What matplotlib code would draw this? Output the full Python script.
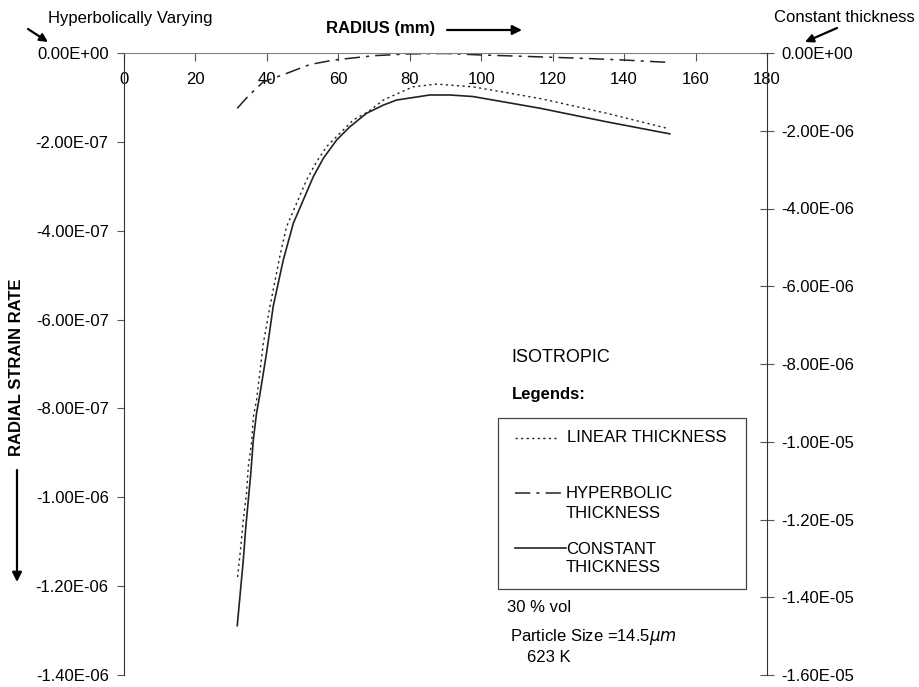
import matplotlib
matplotlib.use("Agg")
import matplotlib.pyplot as plt
from matplotlib.ticker import FuncFormatter
from matplotlib.lines import Line2D
from matplotlib.patches import Rectangle, FancyArrowPatch

plt.rcParams['font.family'] = ['Liberation Sans', 'DejaVu Sans']

# ---- data ----
# Hyperbolic thickness (left axis, strain rate)
r_hyp = [31.7, 35, 39, 45.5, 52, 58.6, 70, 80, 90, 100, 110, 120, 130, 140, 152]
v_hyp = [-1.245e-7, -0.95e-7, -0.65e-7, -0.46e-7, -0.26e-7, -0.16e-7, -0.06e-7,
         -0.02e-7, -0.01e-7, -0.045e-7, -0.07e-7, -0.097e-7, -0.125e-7, -0.158e-7, -0.21e-7]

# Linear thickness (right axis)
r_lin = [31.8, 32.7, 33.4, 34.3, 34.8, 35.7, 36.2, 37.1, 39.0, 40.9, 43.6, 45.5, 48.3,
         51.1, 53.9, 56.7, 60.4, 64.2, 68.4, 72.6, 76.7, 80.9, 87.5,
         97.7, 116.4, 135.1, 152.2]
v_lin = [-13.48e-6, -12.70e-6, -12.01e-6, -11.32e-6, -10.64e-6, -10.03e-6, -9.36e-6,
         -8.93e-6, -7.47e-6, -6.5e-6, -5.24e-6, -4.47e-6, -3.87e-6, -3.27e-6, -2.80e-6,
         -2.41e-6, -2.07e-6, -1.72e-6, -1.51e-6, -1.21e-6, -1.04e-6, -0.87e-6, -0.80e-6,
         -0.87e-6, -1.17e-6, -1.55e-6, -1.94e-6]

# Constant thickness (right axis)
r_con = [31.7, 33.4, 34.1, 34.8, 35.5, 36.2, 37.1, 38.1, 39.9, 41.8, 44.6, 47.4, 50.2,
         53.0, 55.8, 59.5, 63.2, 67.9, 72.6, 76.3, 85.6, 91.2,
         97.7, 116.4, 135.1, 152.8]
v_con = [-14.73e-6, -13.04e-6, -12.19e-6, -11.50e-6, -10.81e-6, -9.95e-6, -9.27e-6,
         -8.75e-6, -7.72e-6, -6.5e-6, -5.32e-6, -4.38e-6, -3.78e-6, -3.18e-6, -2.71e-6,
         -2.24e-6, -1.90e-6, -1.55e-6, -1.34e-6, -1.21e-6, -1.08e-6, -1.08e-6,
         -1.12e-6, -1.42e-6, -1.77e-6, -2.08e-6]

x_ticks = [0, 20, 40, 60, 80, 100, 120, 140, 160, 180]
left_ticks = [0, -2e-7, -4e-7, -6e-7, -8e-7, -1e-6, -1.2e-6, -1.4e-6]
right_ticks = [0, -2e-6, -4e-6, -6e-6, -8e-6, -1e-5, -1.2e-5, -1.4e-5, -1.6e-5]

W, H = 919, 687
fig = plt.figure(figsize=(W / 100, H / 100), dpi=100)
FS = 12


def px(x, y):
    return (x / W, 1 - y / H)


L, R, T, B = 124, 767, 53, 675
ax = fig.add_axes([L / W, 1 - B / H, (R - L) / W, (B - T) / H])
ax2 = ax.twinx()

LC = '#222222'
fmt = FuncFormatter(lambda v, p: f"{v:.2E}")

ax.set_xlim(0, 180)
ax.set_ylim(-1.4e-6, 0)
ax2.set_ylim(-1.6e-5, 0)

ax.set_xticks(x_ticks)
ax.set_yticks(left_ticks)
ax2.set_yticks(right_ticks)
ax.yaxis.set_major_formatter(fmt)
ax2.yaxis.set_major_formatter(fmt)

for s in ['top', 'right']:
    ax.spines[s].set_visible(False)
for s in ['top', 'left', 'bottom']:
    ax2.spines[s].set_visible(False)
ax.spines['bottom'].set_position(('data', 0))
ax.spines['bottom'].set_color('#808080')
ax.spines['left'].set_color('#333333')
ax2.spines['right'].set_color('#333333')

ax.tick_params(axis='x', direction='out', length=6, width=0.8, color='#555555',
               labelsize=FS, pad=8)
ax.tick_params(axis='y', direction='out', length=5, width=0.8, color='#555555',
               labelsize=FS, pad=6)
ax2.tick_params(axis='y', direction='inout', length=10, width=0.8, color='#555555',
                labelsize=FS, pad=5)

ax.plot(r_hyp, v_hyp, color=LC, lw=1.1, dashes=(10, 4, 2, 4))
ax2.plot(r_lin, v_lin, color=LC, lw=1.0, dashes=(1.6, 2.4))
ax2.plot(r_con, v_con, color=LC, lw=1.2, ls='-')


def arrow(p0, p1, ms=14):
    fig.add_artist(FancyArrowPatch(px(*p0), px(*p1), transform=fig.transFigure,
                                   arrowstyle='-|>', mutation_scale=ms, color='black', lw=1.6,
                                   shrinkA=0, shrinkB=0))


# ---- annotations ----
fig.text(*px(130, 18), "Hyperbolically Varying", fontsize=FS, ha='center', va='center')
arrow((28, 29), (48, 42), 12)
fig.text(*px(381, 29), "RADIUS (mm)", fontsize=FS, fontweight='bold', ha='center', va='center')
arrow((447, 30), (522, 30), 14)
fig.text(*px(844, 18), "Constant thickness", fontsize=FS, ha='center', va='center')
arrow((837, 28), (805, 42), 12)

fig.text(*px(17, 367), "RADIAL STRAIN RATE", fontsize=FS, fontweight='bold', rotation=90,
         ha='center', va='center')
arrow((17, 470), (17, 582), 14)

fig.text(*px(511, 358), "ISOTROPIC", fontsize=13, ha='left', va='center')
fig.text(*px(512, 395), "Legends:", fontsize=FS, fontweight='bold', ha='left', va='center')

fig.add_artist(Rectangle(px(498, 589), (746 - 498) / W, (589 - 418) / H, transform=fig.transFigure,
                         fill=False, ec='#444444', lw=0.9))

fig.add_artist(Line2D([515 / W, 558 / W], [1 - 438 / H] * 2, transform=fig.transFigure,
                      color=LC, lw=1.0, dashes=(1.6, 2.4)))
fig.text(*px(567, 438), "LINEAR THICKNESS", fontsize=FS, ha='left', va='center')
fig.add_artist(Line2D([515 / W, 565 / W], [1 - 493 / H] * 2, transform=fig.transFigure,
                      color=LC, lw=1.1, dashes=(10, 4, 2, 4)))
fig.text(*px(566, 493), "HYPERBOLIC", fontsize=FS, ha='left', va='center')
fig.text(*px(566, 513), "THICKNESS", fontsize=FS, ha='left', va='center')
fig.add_artist(Line2D([515 / W, 566 / W], [1 - 548 / H] * 2, transform=fig.transFigure,
                      color=LC, lw=1.2))
fig.text(*px(566, 549), "CONSTANT", fontsize=FS, ha='left', va='center')
fig.text(*px(566, 568), "THICKNESS", fontsize=FS, ha='left', va='center')

fig.text(*px(507, 608), "30 % vol", fontsize=FS, ha='left', va='center')
fig.text(*px(510, 637), r"Particle Size =14.5$\mathit{\mu m}$", fontsize=FS, ha='left', va='center')
fig.text(*px(527, 658), "623 K", fontsize=FS, ha='left', va='center')

fig.savefig("out.png", dpi=100)
